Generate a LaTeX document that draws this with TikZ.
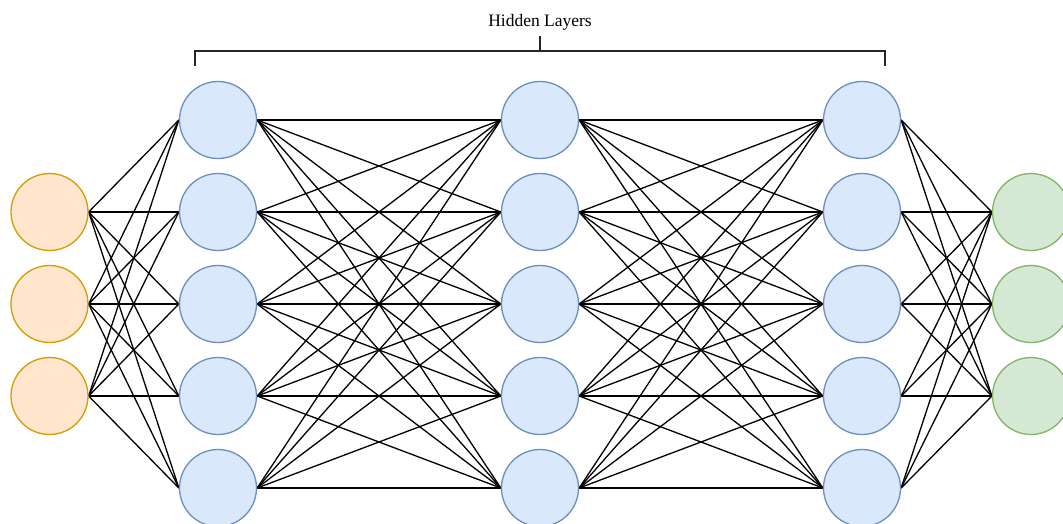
\documentclass[tikz,border=0pt]{standalone}
\usepackage{fontspec}
\setmainfont{Liberation Serif}
\usetikzlibrary{backgrounds}

\definecolor{inFill}{HTML}{FFE6CC}
\definecolor{inDraw}{HTML}{D79B00}
\definecolor{hidFill}{HTML}{DAE8FC}
\definecolor{hidDraw}{HTML}{6C8EBF}
\definecolor{outFill}{HTML}{D5E8D4}
\definecolor{outDraw}{HTML}{82B366}

\begin{document}
\begin{tikzpicture}[
  x=1pt,y=-1pt,
  neuron/.style={circle,draw,minimum size=77pt,inner sep=0pt,line width=1.3pt},
  inneuron/.style={neuron,fill=inFill,draw=inDraw},
  hidneuron/.style={neuron,fill=hidFill,draw=hidDraw},
  outneuron/.style={neuron,fill=outFill,draw=outDraw},
  link/.style={line width=1.3pt,draw=black},
  brace/.style={line width=1.3pt,draw=black!85}
]
\useasboundingbox (0,0) rectangle (1063,523);

% ===== Input Layer =====
\foreach \i/\y in {1/212,2/304,3/396}
  \node[inneuron] (I\i) at (49.5,\y) {};

% ===== Hidden Layers =====
\foreach \l/\x in {1/218,2/540,3/862}
  \foreach \j in {1,...,5}
    \node[hidneuron] (H\l\j) at (\x,{28+92*\j}) {};

% ===== Output Layer =====
\foreach \i/\y in {1/212,2/304,3/396}
  \node[outneuron] (O\i) at (1031,\y) {};

% ===== Connections =====
\begin{scope}[on background layer]
  \foreach \i in {1,2,3}
    \foreach \j in {1,...,5}
      \draw[link] (I\i.east) -- (H1\j.west);
  \foreach \i in {1,...,5}
    \foreach \j in {1,...,5} {
      \draw[link] (H1\i.east) -- (H2\j.west);
      \draw[link] (H2\i.east) -- (H3\j.west);
    }
  \foreach \i in {1,...,5}
    \foreach \j in {1,2,3}
      \draw[link] (H3\i.east) -- (O\j.west);
\end{scope}

% ===== Bracket =====
\coordinate (bl) at (195,66);
\coordinate (br) at (885,66);
\coordinate (bm) at (540,51);
\draw[brace] (bl) -- (bl |- bm) -- (br |- bm) -- (br);
\draw[brace] (bm) -- ++(0,-15) coordinate (btop);
\node[anchor=base,font=\fontsize{17.5}{20}\selectfont] (hl) at (540,26) {Hidden Layers};

\end{tikzpicture}
\end{document}
